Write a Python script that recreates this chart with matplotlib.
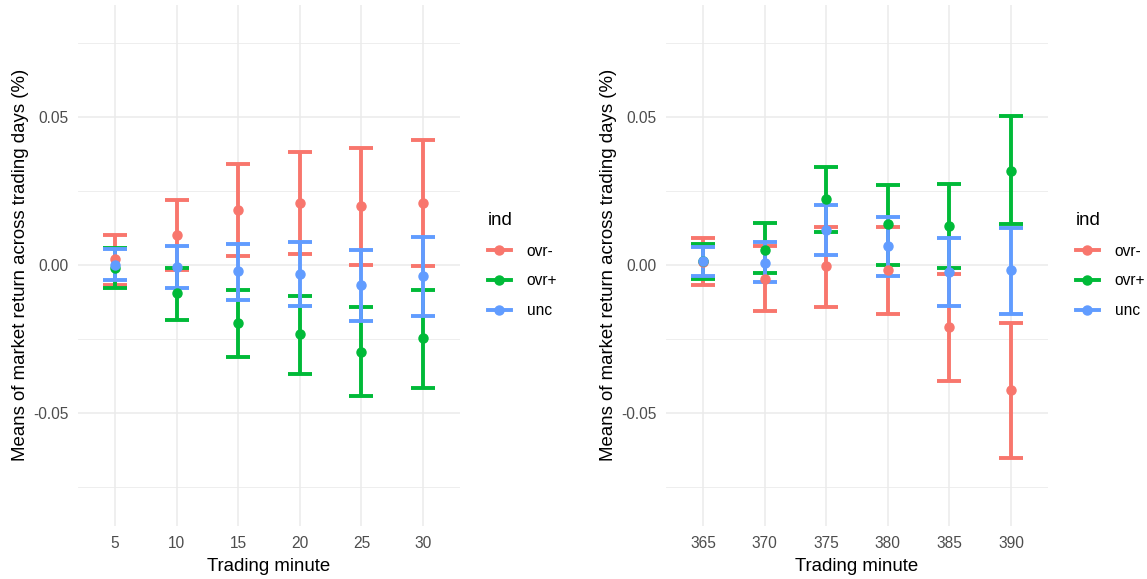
import matplotlib.pyplot as plt
from matplotlib.lines import Line2D
import numpy as np

plt.rcParams['font.family'] = ['Liberation Sans', 'DejaVu Sans']

# Data: means and interval bounds (%) per trading minute
groups = ['ovr-', 'ovr+', 'unc']
colors = ['#F8766D', '#00BA38', '#619CFF']

minutes_open = ['5', '10', '15', '20', '25', '30']
open_mean = {
    'ovr-': [0.0021, 0.0103, 0.0186, 0.0211, 0.0198, 0.0211],
    'ovr+': [-0.0010, -0.0096, -0.0195, -0.0233, -0.0293, -0.0245],
    'unc': [0.0000, -0.0007, -0.0021, -0.0029, -0.0068, -0.0038],
}
open_low = {
    'ovr-': [-0.0069, -0.0016, 0.0029, 0.0037, 0.0000, -0.0004],
    'ovr+': [-0.0077, -0.0186, -0.0311, -0.0367, -0.0443, -0.0414],
    'unc': [-0.0051, -0.0078, -0.0117, -0.0139, -0.0189, -0.0173],
}
open_high = {
    'ovr-': [0.0103, 0.0219, 0.0340, 0.0383, 0.0396, 0.0422],
    'ovr+': [0.0057, -0.0009, -0.0083, -0.0104, -0.0143, -0.0083],
    'unc': [0.0055, 0.0064, 0.0072, 0.0077, 0.0051, 0.0094],
}

minutes_close = ['365', '370', '375', '380', '385', '390']
close_mean = {
    'ovr-': [0.0011, -0.0046, -0.0003, -0.0018, -0.0211, -0.0422],
    'ovr+': [0.0012, 0.0052, 0.0224, 0.0137, 0.0133, 0.0318],
    'unc': [0.0012, 0.0008, 0.0117, 0.0064, -0.0025, -0.0018],
}
close_low = {
    'ovr-': [-0.0069, -0.0156, -0.0143, -0.0164, -0.0393, -0.0652],
    'ovr+': [-0.0048, -0.0027, 0.0111, 0.0000, -0.0009, 0.0137],
    'unc': [-0.0037, -0.0057, 0.0034, -0.0036, -0.0139, -0.0164],
}
close_high = {
    'ovr-': [0.0091, 0.0064, 0.0128, 0.0128, -0.0030, -0.0195],
    'ovr+': [0.0072, 0.0141, 0.0331, 0.0271, 0.0275, 0.0504],
    'unc': [0.0060, 0.0077, 0.0201, 0.0162, 0.0090, 0.0125],
}

fig = plt.figure(figsize=(11.47, 5.79), dpi=100)
ax1 = fig.add_axes([78 / 1147, 1 - 525.5 / 579, 382 / 1147, 521 / 579])
ax2 = fig.add_axes([666 / 1147, 1 - 525.5 / 579, 382 / 1147, 521 / 579])


def draw_panel(ax, labels, means, lows, highs):
    x = np.arange(1, len(labels) + 1)
    for g, c in zip(groups, colors):
        m = np.array(means[g])
        lo = np.array(lows[g])
        hi = np.array(highs[g])
        ax.errorbar(x, m, yerr=[m - lo, hi - m], fmt='o', color=c,
                    ms=6.5, elinewidth=2.8, capsize=8.6, capthick=2.8, zorder=3)
    ax.set_xlim(0.4, len(labels) + 0.6)
    ax.set_ylim(-0.088, 0.088)
    ax.set_xticks(x)
    ax.set_xticklabels(labels)
    ax.set_yticks([-0.05, 0, 0.05])
    ax.set_yticklabels(['-0.05', '0.00', '0.05'])
    ax.set_yticks([-0.075, -0.025, 0.025, 0.075], minor=True)
    ax.grid(True, which='major', color='#EBEBEB', linewidth=1.1)
    ax.grid(True, which='minor', axis='y', color='#EBEBEB', linewidth=0.6)
    ax.set_axisbelow(True)
    for s in ax.spines.values():
        s.set_visible(False)
    ax.tick_params(which='both', length=0, labelsize=11.2, labelcolor='#4D4D4D')
    ax.tick_params(axis='y', pad=6.5)
    ax.tick_params(axis='x', pad=7.5)
    ax.set_xlabel('Trading minute', fontsize=13.4, labelpad=5)
    ax.set_ylabel('Means of market return across trading days (%)', fontsize=13.4, labelpad=3)

    handles = [Line2D([0], [0], color=c, lw=2.8, marker='o', ms=6.5) for c in colors]
    ax.legend(handles, groups, title='ind', loc='center left',
              bbox_to_anchor=(1.036, 0.5), frameon=False, fontsize=11.2,
              title_fontsize=13.4, handlelength=1.5, labelspacing=0.95,
              alignment='left', handletextpad=1.0)


draw_panel(ax1, minutes_open, open_mean, open_low, open_high)
draw_panel(ax2, minutes_close, close_mean, close_low, close_high)

fig.savefig('out.png', dpi=100, facecolor='white')
